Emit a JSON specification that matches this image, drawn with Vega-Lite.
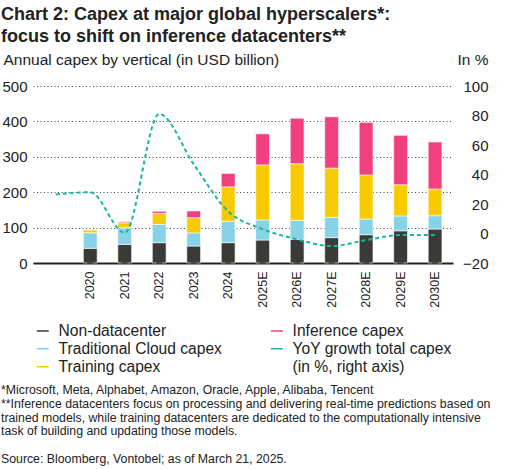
{
  "$schema": "https://vega.github.io/schema/vega-lite/v6.json",
  "width": 420,
  "height": 177,
  "autosize": {"type": "none"},
  "padding": {"left": 33, "top": 86, "right": 70, "bottom": 206},
  "config": {
    "font": "Liberation Sans",
    "view": {"stroke": null},
    "axis": {"labelFont": "Liberation Sans", "titleFont": "Liberation Sans", "labelColor": "#222", "titleColor": "#222"}
  },
  "title": {
    "text": ["Chart 2: Capex at major global hyperscalers*:", "focus to shift on inference datacenters**"],
    "anchor": "start",
    "frame": "bounds",
    "fontSize": 18,
    "fontWeight": "bold",
    "lineHeight": 22.5,
    "color": "#222",
    "offset": 6
  },
  "datasets": {
    "capex": [
      {"year": "2020", "series": "Non-datacenter", "value": 41.5, "ord": 1},
      {"year": "2020", "series": "Traditional Cloud capex", "value": 44, "ord": 2},
      {"year": "2020", "series": "Training capex", "value": 7.5, "ord": 3},
      {"year": "2021", "series": "Non-datacenter", "value": 52.6, "ord": 1},
      {"year": "2021", "series": "Traditional Cloud capex", "value": 47, "ord": 2},
      {"year": "2021", "series": "Training capex", "value": 14, "ord": 3},
      {"year": "2021", "series": "Inference capex", "value": 3, "ord": 4},
      {"year": "2022", "series": "Non-datacenter", "value": 57.5, "ord": 1},
      {"year": "2022", "series": "Traditional Cloud capex", "value": 51.5, "ord": 2},
      {"year": "2022", "series": "Training capex", "value": 31, "ord": 3},
      {"year": "2022", "series": "Inference capex", "value": 6, "ord": 4},
      {"year": "2023", "series": "Non-datacenter", "value": 48, "ord": 1},
      {"year": "2023", "series": "Traditional Cloud capex", "value": 37, "ord": 2},
      {"year": "2023", "series": "Training capex", "value": 43, "ord": 3},
      {"year": "2023", "series": "Inference capex", "value": 19, "ord": 4},
      {"year": "2024", "series": "Non-datacenter", "value": 57.5, "ord": 1},
      {"year": "2024", "series": "Traditional Cloud capex", "value": 60.5, "ord": 2},
      {"year": "2024", "series": "Training capex", "value": 97, "ord": 3},
      {"year": "2024", "series": "Inference capex", "value": 38, "ord": 4},
      {"year": "2025E", "series": "Non-datacenter", "value": 65, "ord": 1},
      {"year": "2025E", "series": "Traditional Cloud capex", "value": 56.5, "ord": 2},
      {"year": "2025E", "series": "Training capex", "value": 155.5, "ord": 3},
      {"year": "2025E", "series": "Inference capex", "value": 88, "ord": 4},
      {"year": "2026E", "series": "Non-datacenter", "value": 67, "ord": 1},
      {"year": "2026E", "series": "Traditional Cloud capex", "value": 53.6, "ord": 2},
      {"year": "2026E", "series": "Training capex", "value": 160, "ord": 3},
      {"year": "2026E", "series": "Inference capex", "value": 128.4, "ord": 4},
      {"year": "2027E", "series": "Non-datacenter", "value": 71.6, "ord": 1},
      {"year": "2027E", "series": "Traditional Cloud capex", "value": 57.4, "ord": 2},
      {"year": "2027E", "series": "Training capex", "value": 139, "ord": 3},
      {"year": "2027E", "series": "Inference capex", "value": 145, "ord": 4},
      {"year": "2028E", "series": "Non-datacenter", "value": 80, "ord": 1},
      {"year": "2028E", "series": "Traditional Cloud capex", "value": 44, "ord": 2},
      {"year": "2028E", "series": "Training capex", "value": 124.6, "ord": 3},
      {"year": "2028E", "series": "Inference capex", "value": 148.4, "ord": 4},
      {"year": "2029E", "series": "Non-datacenter", "value": 91, "ord": 1},
      {"year": "2029E", "series": "Traditional Cloud capex", "value": 42, "ord": 2},
      {"year": "2029E", "series": "Training capex", "value": 88, "ord": 3},
      {"year": "2029E", "series": "Inference capex", "value": 139.7, "ord": 4},
      {"year": "2030E", "series": "Non-datacenter", "value": 96, "ord": 1},
      {"year": "2030E", "series": "Traditional Cloud capex", "value": 37.6, "ord": 2},
      {"year": "2030E", "series": "Training capex", "value": 75.4, "ord": 3},
      {"year": "2030E", "series": "Inference capex", "value": 133, "ord": 4}
    ],
    "growth": [
      {"year": "2019", "growth": 26.5},
      {"year": "2020", "growth": 28},
      {"year": "2021", "growth": 0.5},
      {"year": "2022", "growth": 81},
      {"year": "2023", "growth": 47},
      {"year": "2024", "growth": 15},
      {"year": "2025E", "growth": 3},
      {"year": "2026E", "growth": -4},
      {"year": "2027E", "growth": -8.5},
      {"year": "2028E", "growth": -4.5},
      {"year": "2029E", "growth": -1},
      {"year": "2030E", "growth": -1}
    ],
    "ticks": [
      {"year": "2020"}, {"year": "2021"}, {"year": "2022"}, {"year": "2023"},
      {"year": "2024"}, {"year": "2025E"}, {"year": "2026E"}, {"year": "2027E"},
      {"year": "2028E"}, {"year": "2029E"}, {"year": "2030E"}
    ]
  },
  "layer": [
    {
      "layer": [
        {
          "data": {"name": "capex"},
          "mark": {"type": "bar", "stroke": "white", "strokeWidth": 1, "strokeOpacity": 0.6},
          "encoding": {
            "x": {
              "field": "year",
              "type": "nominal",
              "sort": null,
              "scale": {
                "domain": ["2019", "2020", "2021", "2022", "2023", "2024", "2025E", "2026E", "2027E", "2028E", "2029E", "2030E"],
                "paddingInner": 0.6,
                "paddingOuter": 0.39,
                "align": 0.59
              },
              "axis": {
                "title": null,
                "labelAngle": 270,
                "labelAlign": "right",
                "labelBaseline": "middle",
                "labelExpr": "datum.value == '2019' ? '' : datum.value",
                "ticks": false,
                "domainColor": "#222",
                "domainWidth": 2,
                "labelFontSize": 12.5,
                "labelPadding": 8
              }
            },
            "y": {
              "field": "value",
              "type": "quantitative",
              "stack": "zero",
              "scale": {"domain": [0, 500]},
              "axis": {
                "orient": "left",
                "values": [0, 100, 200, 300, 400, 500],
                "labelOverlap": false,
                "grid": true,
                "gridDash": [1, 2.5],
                "gridColor": "#444",
                "domain": false,
                "ticks": false,
                "labelPadding": 6,
                "labelFontSize": 15,
                "title": "Annual capex by vertical (in USD billion)",
                "titleAngle": 0,
                "titleAlign": "left",
                "titleBaseline": "alphabetic",
                "titleX": -30,
                "titleY": -22,
                "titleFontSize": 15.5,
                "titleFontWeight": "normal"
              }
            },
            "color": {
              "field": "series",
              "type": "nominal",
              "scale": {
                "domain": ["Non-datacenter", "Traditional Cloud capex", "Training capex", "Inference capex", "YoY growth total capex", "(in %, right axis)"],
                "range": ["#3c3a36", "#86d3e8", "#f8cb00", "#f23f80", "#19b7a0", "transparent"]
              },
              "legend": {
                "orient": "none",
                "legendX": -32,
                "legendY": 236,
                "columns": 2,
                "columnPadding": 13,
                "rowPadding": 0,
                "clipHeight": 17.5,
                "symbolType": "stroke",
                "symbolSize": 144,
                "symbolOffset": 34,
                "labelOffset": 8,
                "labelFontSize": 15.6,
                "labelColor": "#222",
                "labelLimit": 400,
                "title": [
                  "*Microsoft, Meta, Alphabet, Amazon, Oracle, Apple, Alibaba, Tencent",
                  "**Inference datacenters focus on processing and delivering real-time predictions based on",
                  "trained models, while training datacenters are dedicated to the computationally intensive",
                  "task of building and updating those models.",
                  "\u200b",
                  "Source: Bloomberg, Vontobel; as of March 21, 2025."
                ],
                "titleOrient": "bottom",
                "titleAnchor": "start",
                "titleAlign": "left",
                "titleFontSize": 12.3,
                "titleFontWeight": "normal",
                "titleLineHeight": 13.8,
                "titlePadding": 8,
                "titleLimit": 700,
                "titleColor": "#222",
                "encode": {
                  "symbols": {
                    "update": {
                      "fill": {"value": "transparent"},
                      "stroke": {"scale": "color", "field": "value"},
                      "strokeWidth": {"signal": "datum.value == 'YoY growth total capex' ? 1.5 : 3.5"},
                      "strokeDash": {"signal": "datum.value == 'YoY growth total capex' ? [2, 1.5] : []"},
                      "opacity": {"value": 1}
                    }
                  }
                }
              }
            },
            "order": {"field": "ord", "type": "quantitative"}
          }
        },
        {
          "data": {"name": "ticks"},
          "mark": {"type": "tick", "color": "#222", "thickness": 1.5, "size": 6},
          "encoding": {
            "x": {"field": "year", "type": "nominal", "bandPosition": -0.75},
            "y": {
              "datum": 0,
              "type": "quantitative",
              "axis": {
                "orient": "left",
                "values": [0, 100, 200, 300, 400, 500],
                "labelOverlap": false,
                "grid": true,
                "gridDash": [1, 2.5],
                "gridColor": "#444",
                "domain": false,
                "ticks": false,
                "labelPadding": 6,
                "labelFontSize": 15,
                "title": "Annual capex by vertical (in USD billion)",
                "titleAngle": 0,
                "titleAlign": "left",
                "titleBaseline": "alphabetic",
                "titleX": -30,
                "titleY": -22,
                "titleFontSize": 15.5,
                "titleFontWeight": "normal"
              }
            }
          }
        }
      ]
    },
    {
      "data": {"name": "growth"},
      "mark": {"type": "line", "interpolate": "monotone", "strokeDash": [4, 3], "strokeWidth": 2},
      "encoding": {
        "x": {"field": "year", "type": "nominal"},
        "y": {
          "field": "growth",
          "type": "quantitative",
          "scale": {"domain": [-20, 100]},
          "axis": {
            "orient": "right",
            "values": [-20, 0, 20, 40, 60, 80, 100],
            "labelOverlap": false,
            "grid": false,
            "domain": false,
            "ticks": false,
            "labelAlign": "right",
            "labelPadding": 35,
            "labelFontSize": 15,
            "title": "In %",
            "titleAngle": 0,
            "titleAlign": "right",
            "titleBaseline": "alphabetic",
            "titleX": 35,
            "titleY": -22,
            "titleFontSize": 15.5,
            "titleFontWeight": "normal"
          }
        },
        "color": {"datum": "YoY growth total capex"}
      }
    }
  ],
  "resolve": {"scale": {"y": "independent"}}
}
